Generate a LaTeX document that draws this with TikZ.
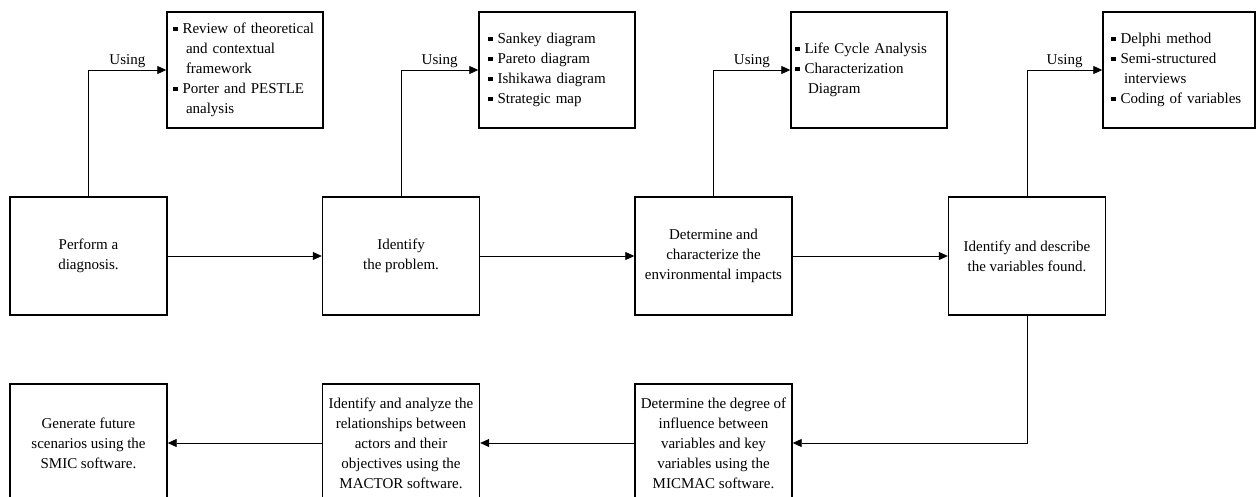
\documentclass[tikz,border=0pt]{standalone}
\usepackage{fontspec}
\setmainfont{Liberation Serif}
\usetikzlibrary{arrows.meta}
\newcommand{\sqbul}{\rule[2.5pt]{4.5pt}{4.5pt}\hspace{5pt}}
\newcommand{\hang}{\hspace*{13pt}}

\begin{document}
\begin{tikzpicture}[x=1pt,y=-1pt,font=\fontsize{15}{20}\selectfont,
    procbox/.style={draw,line width=1.4pt,minimum width=157pt,minimum height=118pt,align=center,inner sep=2pt},
    toolbox/.style={draw,line width=1.4pt,minimum height=116pt,align=left,inner xsep=9pt,inner ysep=2pt,text width=138pt},
    link/.style={line width=0.8pt,-{Triangle[length=9pt,width=8pt]}},
    uselbl/.style={above,inner sep=1.5pt}]
                \useasboundingbox (0,0) rectangle (1256,497);
                \node[procbox] (diag) at (88.5,256) {Perform a\\diagnosis.};
                \node[procbox] (prob) at (401,256) {Identify\\the problem.};
                \node[procbox] (impact) at (713.5,256) {Determine and\\characterize the\\environmental impacts};
                \node[procbox] (vars) at (1027,256) {Identify and describe\\the variables found.};
                \node[procbox] (micmac) at (713.5,443) {Determine the degree of\\influence between\\variables and key\\variables using the\\MICMAC software.};
                \node[procbox] (mactor) at (401,443) {Identify and analyze the\\relationships between\\actors and their\\objectives using the\\MACTOR software.};
                \node[procbox] (smic) at (88.5,443) {Generate future\\scenarios using the\\SMIC software.};
                \node[toolbox,inner xsep=6pt,text width=144pt] (frame) at (245,70) {\sqbul\mbox{Review of theoretical}\\\hang and contextual\\\hang framework\\\sqbul Porter and PESTLE\\\hang analysis};
                \node[toolbox] (graphs) at (557,70) {\sqbul Sankey diagram\\\sqbul Pareto diagram\\\sqbul Ishikawa diagram\\\sqbul Strategic map};
                \node[toolbox,inner xsep=4pt,text width=148pt] (lca) at (869,70) {\sqbul Life Cycle Analysis\\\sqbul Characterization\\\hang Diagram};
                \node[toolbox,inner xsep=8pt,text width=136pt] (expert) at (1179,70) {\sqbul Delphi method\\\sqbul Semi-structured\\\hang interviews\\\sqbul Coding of variables};
                \draw[link] (diag.north) |- node[uselbl,pos=0.75] {Using} (frame.west);
                \draw[link] (prob.north) |- node[uselbl,pos=0.75] {Using} (graphs.west);
                \draw[link] (impact.north) |- node[uselbl,pos=0.75] {Using} (lca.west);
                \draw[link] (vars.north) |- node[uselbl,pos=0.75] {Using} (expert.west);
                \draw[link] (diag) -- (prob);
                \draw[link] (prob) -- (impact);
                \draw[link] (impact) -- (vars);
                \draw[link] (vars.south) |- (micmac.east);
                \draw[link] (micmac) -- (mactor);
                \draw[link] (mactor) -- (smic);
            \end{tikzpicture}
\end{document}
